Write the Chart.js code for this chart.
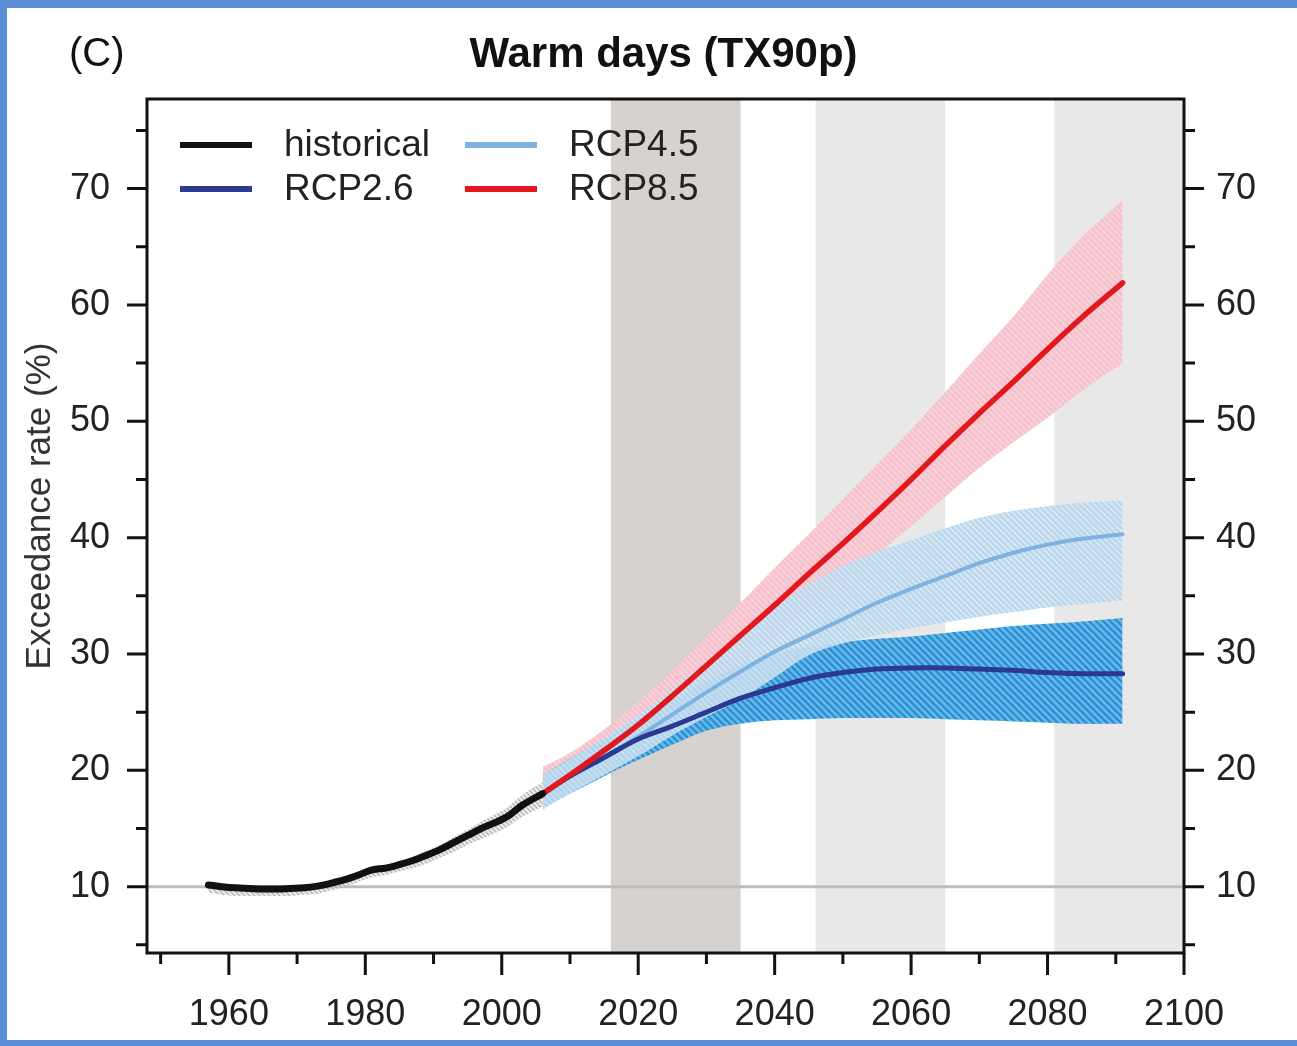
<!DOCTYPE html>
<html>
<head>
<meta charset="utf-8">
<script src="https://cdn.jsdelivr.net/npm/chart.js@4.4.1/dist/chart.umd.min.js"></script>
<style>
  html, body { margin: 0; padding: 0; background: #5b8fd5; }
  #wrap { position: absolute; left: 7px; top: 8px; width: 1290px; height: 1032px; background: #fff; }
</style>
</head>
<body>
<div id="wrap"><canvas id="myChart" width="1290" height="1032"></canvas></div>
<script>
// historical run
const histYears = [1957, 1959, 1961, 1963, 1965, 1967, 1969, 1971, 1973, 1975, 1977, 1979, 1981, 1983, 1985, 1987, 1989, 1991, 1993, 1995, 1997, 1999, 2001, 2003, 2006];
const histMean  = [10.15, 10.0, 9.9, 9.85, 9.8, 9.8, 9.85, 9.9, 10.05, 10.3, 10.6, 11.0, 11.45, 11.6, 11.9, 12.25, 12.7, 13.2, 13.8, 14.4, 15.0, 15.5, 16.1, 17.0, 18.0];
const histLow   = [9.5, 9.3, 9.2, 9.2, 9.2, 9.2, 9.2, 9.3, 9.4, 9.7, 10.0, 10.4, 10.8, 11.0, 11.3, 11.6, 12.0, 12.5, 13.0, 13.6, 14.1, 14.6, 15.2, 16.0, 16.9];
const histHigh  = [10.3, 10.2, 10.1, 10.05, 10.0, 10.0, 10.05, 10.1, 10.3, 10.6, 10.9, 11.3, 11.7, 11.9, 12.2, 12.6, 13.1, 13.6, 14.3, 14.9, 15.6, 16.2, 16.9, 17.9, 19.0];

// scenario runs
const rcpYears = [2006, 2010, 2015, 2020, 2025, 2030, 2035, 2040, 2045, 2050, 2055, 2060, 2065, 2070, 2075, 2080, 2085, 2091];
const rcp26Mean = [18.0, 19.5, 21.1, 22.7, 23.8, 25.0, 26.2, 27.1, 27.9, 28.4, 28.7, 28.8, 28.8, 28.7, 28.6, 28.4, 28.3, 28.3];
const rcp26Low  = [16.8, 18.0, 19.5, 20.9, 22.2, 23.4, 24.0, 24.3, 24.4, 24.5, 24.5, 24.5, 24.4, 24.3, 24.2, 24.1, 24.0, 24.0];
const rcp26High = [19.6, 21.0, 22.7, 24.4, 26.0, 27.6, 29.0, 30.0, 30.6, 31.0, 31.3, 31.5, 31.8, 32.1, 32.4, 32.6, 32.8, 33.1];
const rcp45Mean = [18.0, 19.5, 21.1, 22.9, 24.8, 26.7, 28.5, 30.2, 31.6, 33.0, 34.4, 35.6, 36.7, 37.8, 38.7, 39.4, 39.9, 40.3];
const rcp45Low  = [16.6, 18.0, 19.6, 21.2, 23.0, 24.6, 26.1, 28.0, 29.9, 30.9, 31.6, 32.2, 32.7, 33.2, 33.6, 34.0, 34.3, 34.6];
const rcp45High = [19.6, 21.0, 22.8, 24.8, 27.0, 29.4, 31.8, 34.0, 36.0, 37.6, 38.8, 39.8, 40.8, 41.7, 42.3, 42.7, 43.0, 43.2];
const rcp85Mean = [18.0, 19.6, 21.7, 23.9, 26.4, 29.0, 31.6, 34.2, 36.9, 39.5, 42.2, 45.0, 47.9, 50.7, 53.4, 56.2, 58.9, 61.9];
const rcp85Low  = [16.8, 18.0, 20.1, 22.2, 24.5, 26.8, 29.0, 31.4, 33.8, 36.0, 38.5, 41.0, 43.5, 46.0, 48.2, 50.3, 52.6, 55.0];
const rcp85High = [20.3, 21.5, 23.5, 25.9, 28.6, 31.5, 34.4, 37.4, 40.3, 43.3, 46.3, 49.3, 52.5, 55.8, 59.0, 62.6, 65.8, 69.0];

// shaded periods and reference line
const periodStart = [2016, 2046, 2081];
const periodEnd   = [2035, 2065, 2100];
const baseLine = 10;

const legendNames = ['historical', 'RCP2.6', 'RCP4.5', 'RCP8.5'];
const legendColors = ['#111111', '#2b3990', '#7fb2e0', '#e2181f'];

const FONT = '"Liberation Sans", Arial, Helvetica, sans-serif';

const hatch = (bg, fg, size, w) => {
    const c = document.createElement('canvas');
    c.width = c.height = size;
    const g = c.getContext('2d');
    g.fillStyle = bg;
    g.fillRect(0, 0, size, size);
    g.strokeStyle = fg;
    g.lineWidth = w;
    g.beginPath();
    for (let k = -1; k <= 1; k++) {
        g.moveTo(-1, k * size - 1);
        g.lineTo(size + 1, size + k * size + 1);
    }
    g.stroke();
    return g.createPattern(c, 'repeat');
}

const pts = (xs, ys) => xs.map((x, i) => ({ x: x, y: ys[i] }));

const line = (label, xs, ys, color, width, order) => ({
    label: label, data: pts(xs, ys), borderColor: color, borderWidth: width,
    pointRadius: 0, fill: false, tension: 0.35, order: order, borderCapStyle: 'round'
});

const band = (label, xs, lo, hi, pattern, order) => ([
    { label: label + ' low', data: pts(xs, lo), borderWidth: 0, pointRadius: 0, fill: false, tension: 0.35, order: order },
    { label: label + ' high', data: pts(xs, hi), borderWidth: 0, pointRadius: 0, fill: '-1', backgroundColor: pattern, tension: 0.35, order: order }
]);

const decor = {
    id: 'decor',
    beforeDatasetsDraw(chart) {
        const { ctx, chartArea: a, scales: { x, y } } = chart;
        ctx.save();
        periodStart.forEach((s, i) => {
            const x0 = x.getPixelForValue(s), x1 = x.getPixelForValue(periodEnd[i]);
            ctx.fillStyle = i === 0 ? '#d6d2d0' : '#e8e8e8';
            ctx.fillRect(x0, a.top, x1 - x0, a.bottom - a.top);
        });
        const yb = y.getPixelForValue(baseLine);
        ctx.strokeStyle = '#bdbdbd';
        ctx.lineWidth = 3;
        ctx.beginPath();
        ctx.moveTo(a.left, yb);
        ctx.lineTo(a.right, yb);
        ctx.stroke();
        ctx.restore();
    },
    afterDraw(chart) {
        const { ctx, chartArea: a, scales: { x, y } } = chart;
        ctx.save();
        // frame
        ctx.strokeStyle = '#111';
        ctx.lineWidth = 3;
        ctx.strokeRect(a.left, a.top, a.right - a.left, a.bottom - a.top);
        // tick marks
        ctx.lineWidth = 3;
        ctx.beginPath();
        x.ticks.forEach(t => {
            const px = x.getPixelForValue(t.value);
            const len = t.value % 20 === 0 ? 22 : 11;
            ctx.moveTo(px, a.bottom);
            ctx.lineTo(px, a.bottom + len);
        });
        y.ticks.forEach(t => {
            const py = y.getPixelForValue(t.value);
            const len = t.value % 10 === 0 ? 20 : 11;
            ctx.moveTo(a.left, py);
            ctx.lineTo(a.left - len, py);
            ctx.moveTo(a.right, py);
            ctx.lineTo(a.right + len, py);
        });
        ctx.stroke();

        // titles
        ctx.fillStyle = '#111';
        ctx.textBaseline = 'alphabetic';
        ctx.textAlign = 'center';
        ctx.font = 'bold 42px ' + FONT;
        ctx.fillText('Warm days (TX90p)', (a.left + a.right) / 2 - 2, 59);
        ctx.textAlign = 'left';
        ctx.font = '40px ' + FONT;
        ctx.fillText('(C)', 62, 58);

        ctx.save();
        ctx.translate(43, 498);
        ctx.rotate(-Math.PI / 2);
        ctx.textAlign = 'center';
        ctx.fillStyle = '#333';
        ctx.font = '35px ' + FONT;
        ctx.fillText('Exceedance rate (%)', 0, 0);
        ctx.restore();

        // legend
        const cols = [173, 458];
        const rows = [137, 181];
        ctx.font = '37px ' + FONT;
        ctx.textBaseline = 'middle';
        ctx.textAlign = 'left';
        ctx.lineCap = 'butt';
        legendNames.forEach((name, i) => {
            const cx = cols[Math.floor(i / 2)], cy = rows[i % 2];
            ctx.strokeStyle = legendColors[i];
            ctx.lineWidth = 6;
            ctx.beginPath();
            ctx.moveTo(cx, cy);
            ctx.lineTo(cx + 72, cy);
            ctx.stroke();
            ctx.fillStyle = '#222';
            ctx.fillText(name, cx + 104, cy + 1);
        });
        ctx.restore();
    }
};

const constructChart = () => {
    const pinkHatch = hatch('#f9cfd7', '#f3bcc7', 6, 1.5);
    const lightHatch = hatch('rgba(206,227,243,0.9)', 'rgba(176,206,232,0.9)', 6, 1.5);
    const blueHatch = hatch('#62b8e8', '#2b8cd0', 7, 2.2);
    const greyHatch = hatch('rgba(215,215,215,0.5)', 'rgba(150,150,150,0.7)', 5, 1.2);

    const datasets = [
        ...band('RCP8.5 range', rcpYears, rcp85Low, rcp85High, pinkHatch, 13),
        ...band('RCP2.6 range', rcpYears, rcp26Low, rcp26High, blueHatch, 12),
        ...band('RCP4.5 range', rcpYears, rcp45Low, rcp45High, lightHatch, 11),
        ...band('historical range', histYears, histLow, histHigh, greyHatch, 10),
        line('RCP4.5', rcpYears, rcp45Mean, legendColors[2], 4, 3),
        line('RCP2.6', rcpYears, rcp26Mean, legendColors[1], 5, 2),
        line('RCP8.5', rcpYears, rcp85Mean, legendColors[3], 5.5, 1),
        line('historical', histYears, histMean, legendColors[0], 7, 0)
    ];

    const tickFont = { family: FONT, size: 36 };

    const config = {
        type: 'line',
        data: { datasets: datasets },
        plugins: [decor],
        options: {
            responsive: false,
            animation: false,
            devicePixelRatio: 1,
            layout: { padding: { top: 91, left: 0, right: 0, bottom: 0 } },
            plugins: { legend: { display: false }, tooltip: { enabled: false }, filler: { propagate: false } },
            scales: {
                x: {
                    type: 'linear', min: 1948, max: 2100,
                    grid: { display: false, drawTicks: true, tickLength: 20 },
                    border: { display: false },
                    ticks: {
                        stepSize: 10, includeBounds: false, autoSkip: false, maxRotation: 0,
                        padding: 20, color: '#222', font: tickFont,
                        callback: v => (v % 20 === 0 ? String(v) : '')
                    },
                    afterFit: s => { s.height = 87; }
                },
                y: {
                    type: 'linear', position: 'left', min: 4.3, max: 77.7,
                    grid: { display: false, drawTicks: true, tickLength: 20 },
                    border: { display: false },
                    ticks: {
                        stepSize: 5, includeBounds: false, autoSkip: false,
                        padding: 17, color: '#222', font: tickFont,
                        callback: v => (v % 10 === 0 ? String(v) : '')
                    },
                    afterFit: s => { s.width = 140; }
                },
                y2: {
                    type: 'linear', position: 'right', min: 4.3, max: 77.7,
                    grid: { display: false, drawTicks: true, tickLength: 20 },
                    border: { display: false },
                    ticks: {
                        stepSize: 5, includeBounds: false, autoSkip: false,
                        padding: 12, color: '#222', font: tickFont,
                        callback: v => (v % 10 === 0 ? String(v) : '')
                    },
                    afterFit: s => { s.width = 113; }
                }
            }
        }
    };

    new Chart(document.getElementById('myChart'), config);
}

constructChart()
</script>
</body>
</html>
